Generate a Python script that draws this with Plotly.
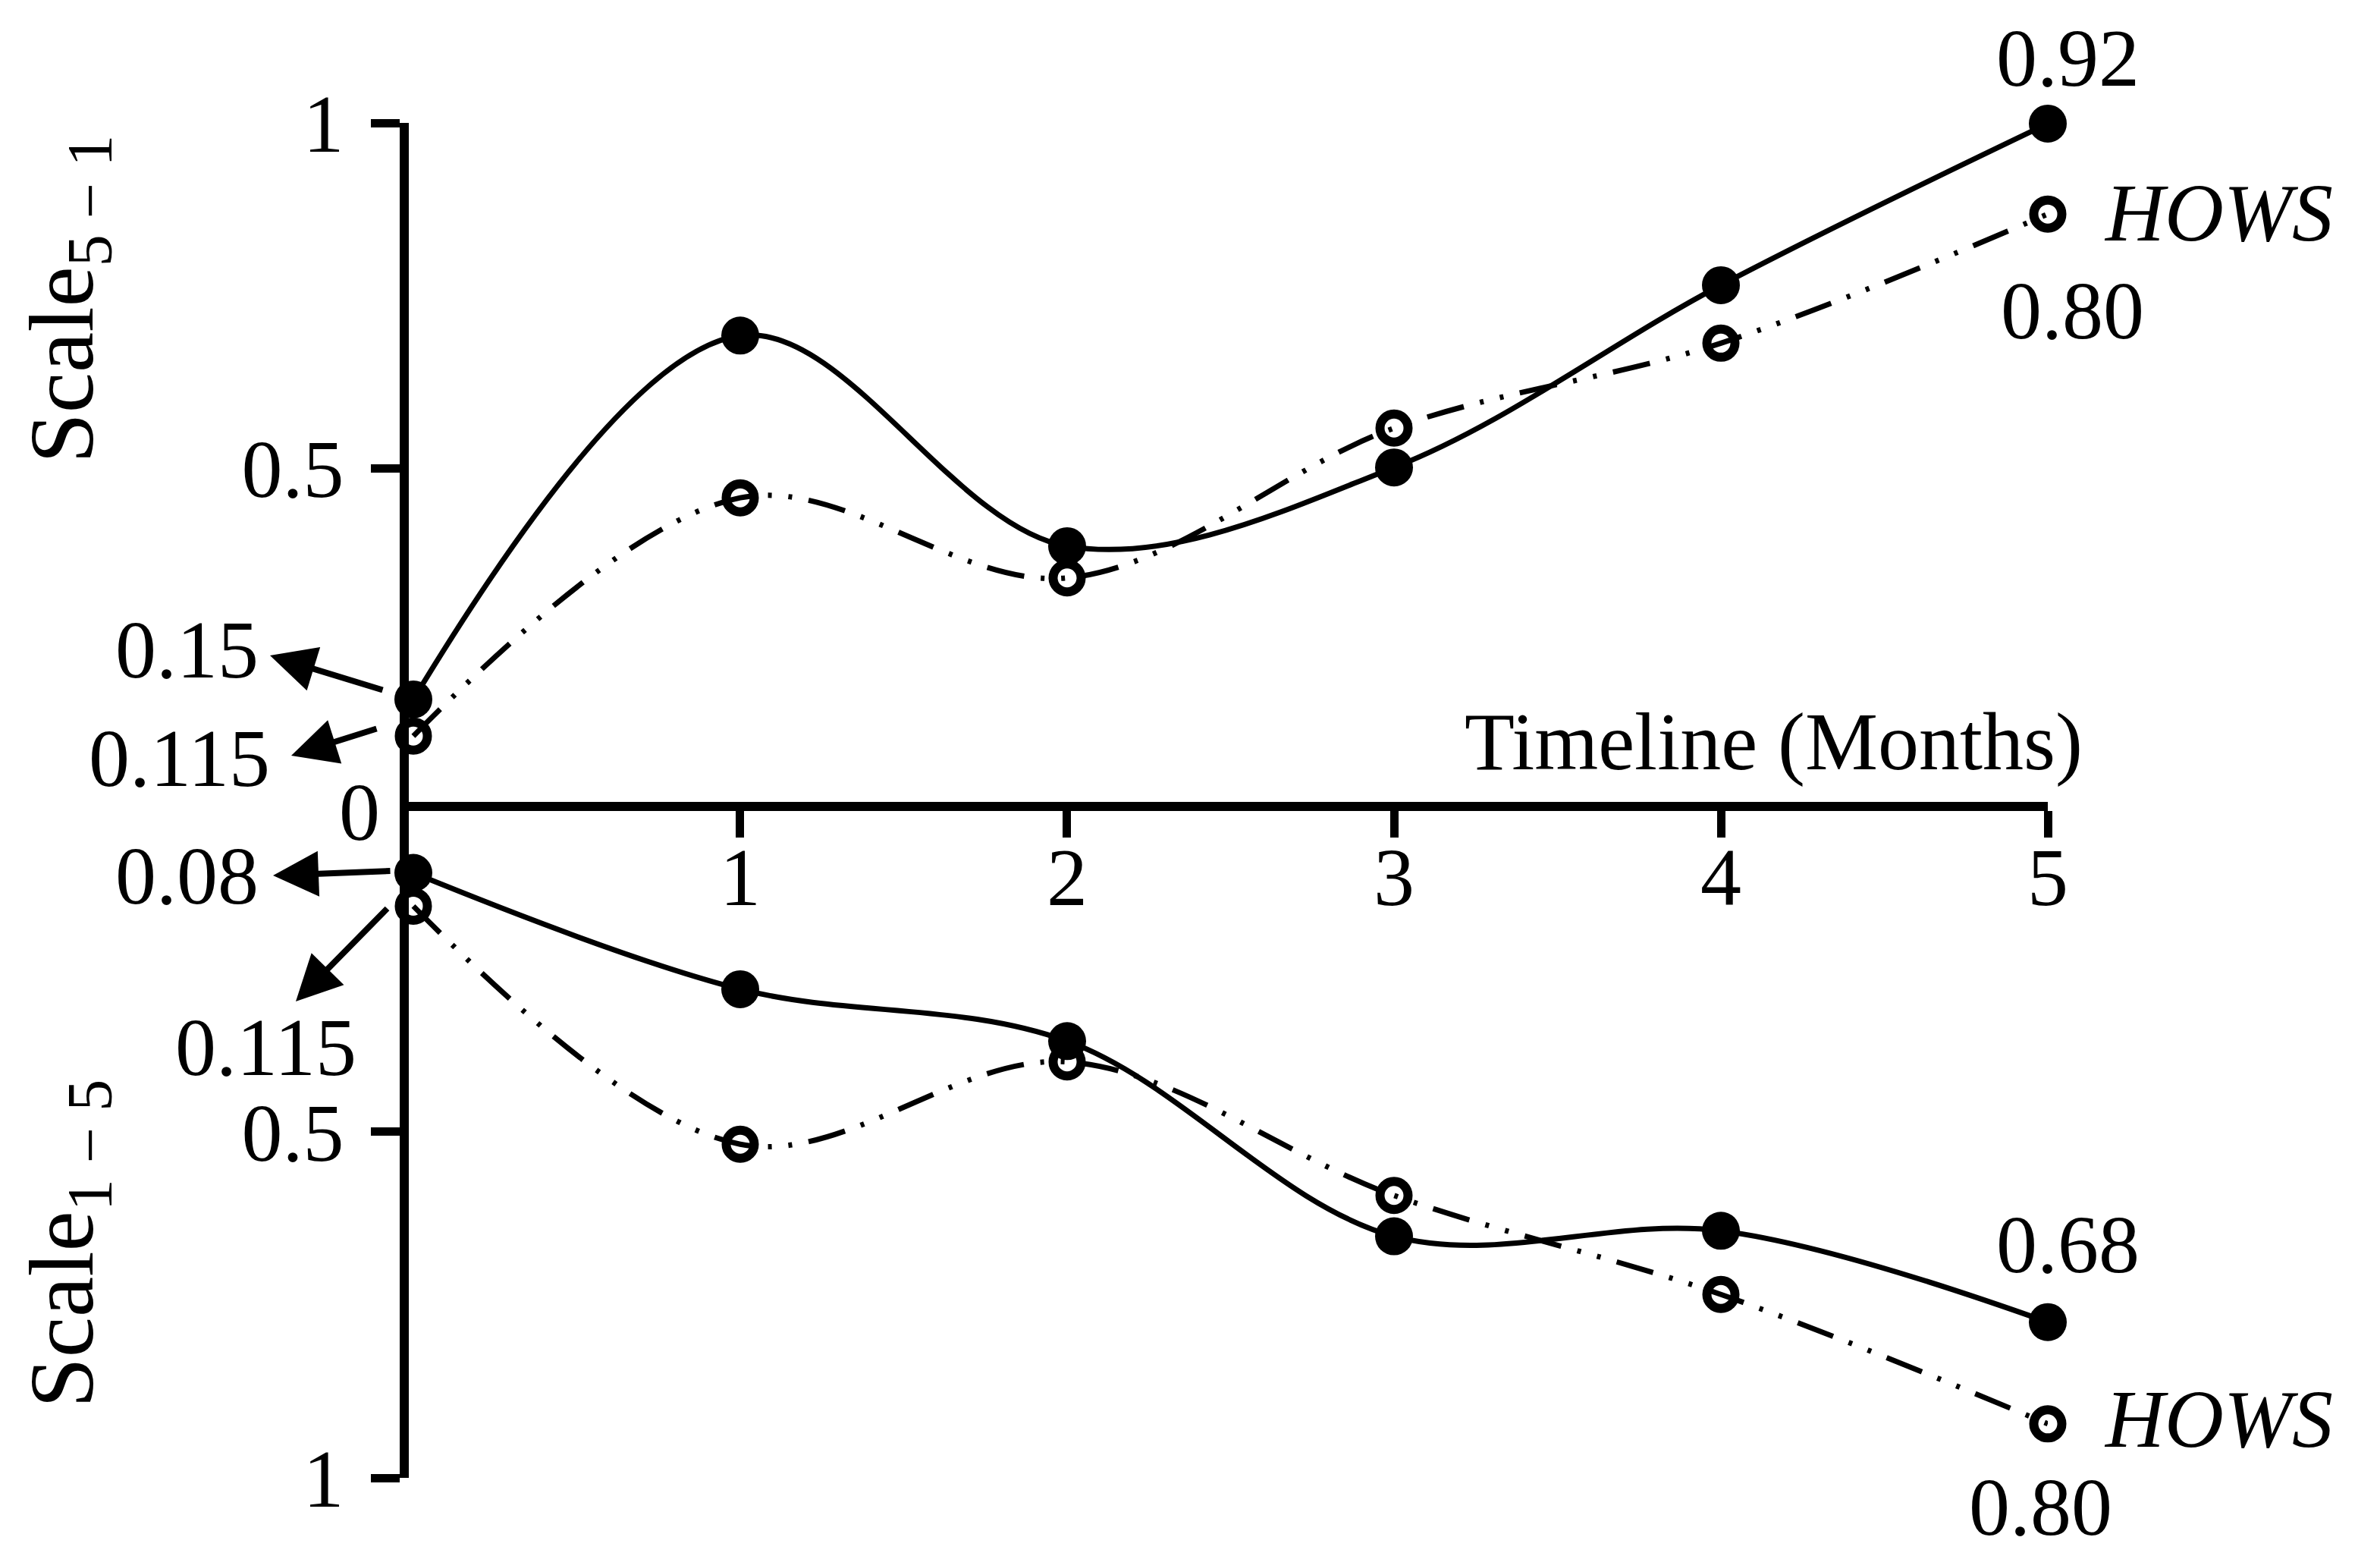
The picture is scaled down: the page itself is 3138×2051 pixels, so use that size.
import plotly.graph_objects as go

W, H = 3138, 2051
FONT = "Liberation Serif"

months = [0, 1, 2, 3, 4, 5]
upper_filled = [0.165, 0.692, 0.387, 0.501, 0.765, 0.999]
upper_open = [0.112, 0.457, 0.341, 0.558, 0.681, 0.868]
lower_filled = [0.126, 0.294, 0.369, 0.651, 0.643, 0.775]
lower_open = [0.174, 0.518, 0.399, 0.592, 0.735, 0.922]
x_ticks = [1, 2, 3, 4, 5]
y_ticks = [0.5, 1]
y_ticktext = ["0.5", "1"]

OFF = 8  # page body margin


def px(x):
    return (x - OFF) / W


def py(y):
    return 1 - (y - OFF) / H


DASH = "50px,22px,5px,22px,5px,22px"
FS = 108

fig = go.Figure()
for ys, yax in [(upper_filled, "y"), (lower_filled, "y2")]:
    fig.add_trace(go.Scatter(
        x=months, y=ys, xaxis="x", yaxis=yax, mode="lines+markers",
        line=dict(color="black", width=7, shape="spline", smoothing=1.0),
        marker=dict(symbol="circle", size=50, color="black"),
        cliponaxis=False, showlegend=False))
for ys, yax in [(upper_open, "y"), (lower_open, "y2")]:
    fig.add_trace(go.Scatter(
        x=months, y=ys, xaxis="x", yaxis=yax, mode="lines+markers",
        line=dict(color="black", width=7, shape="spline", smoothing=1.0, dash=DASH),
        marker=dict(symbol="circle", size=37, color="rgba(0,0,0,0)",
                    line=dict(width=12, color="black")),
        cliponaxis=False, showlegend=False))

tickfont = dict(family=FONT, size=FS, color="black")
common_y = dict(showline=True, linecolor="black", linewidth=12, ticks="outside",
                ticklen=38, tickwidth=11, tickcolor="black", showgrid=False,
                zeroline=False, tickfont=tickfont, tickvals=y_ticks, ticktext=y_ticktext,
                anchor="x", ticklabelstandoff=14, automargin=False)

fig.update_layout(
    width=W, height=H, margin=dict(l=0, r=0, t=0, b=0, autoexpand=False),
    paper_bgcolor="white", plot_bgcolor="white",
    xaxis=dict(domain=[px(539), px(2700)], range=[-0.0139, 5], anchor="y",
               showline=True, linecolor="black", linewidth=12, ticks="outside",
               ticklen=35, tickwidth=11, tickcolor="black", tickvals=x_ticks,
               showgrid=False, zeroline=False, tickfont=tickfont,
               ticklabelstandoff=-41, automargin=False),
    yaxis=dict(domain=[py(1057), py(162)], range=[0.0166, 1], **common_y),
    yaxis2=dict(domain=[py(1948), py(1057)], range=[1, 0.0234], **common_y),
)


def text_ann(t, x, y, size=FS, xanchor="center", yanchor="middle", angle=0):
    fig.add_annotation(text=t, x=px(x), y=py(y), xref="paper", yref="paper",
                       showarrow=False, xanchor=xanchor, yanchor=yanchor,
                       textangle=angle, font=dict(family=FONT, size=size, color="black"))


def arrow(head, tail):
    fig.add_annotation(text="", x=px(head[0]), y=py(head[1]), xref="paper", yref="paper",
                       ax=tail[0] - head[0], ay=tail[1] - head[1], axref="pixel", ayref="pixel",
                       showarrow=True, arrowhead=2, arrowsize=1.5, arrowwidth=8,
                       arrowcolor="black")


# value callouts
text_ann("0.92", 2726, 76)
text_ann("<i>HOWS</i>", 2772, 280, xanchor="left")
text_ann("0.80", 2732, 410)
text_ann("0.68", 2726, 1640)
text_ann("<i>HOWS</i>", 2772, 1870, xanchor="left")
text_ann("0.80", 2690, 1986)
text_ann("0.15", 246, 856)
text_ann("0.115", 236, 1000)
text_ann("0", 474, 1070)
text_ann("0.08", 246, 1154)
text_ann("0.115", 350, 1380)

arrow((356, 864), (506, 910))
arrow((384, 996), (498, 960))
arrow((360, 1154), (516, 1148))
arrow((390, 1320), (512, 1196))

text_ann("Timeline (Months)", 2748, 1040, xanchor="right", yanchor="bottom")
text_ann("Scale<sub>5 − 1</sub>", 90, 395, size=120, angle=-90)
text_ann("Scale<sub>1 − 5</sub>", 90, 1640, size=120, angle=-90)

fig.write_html("out.html")
